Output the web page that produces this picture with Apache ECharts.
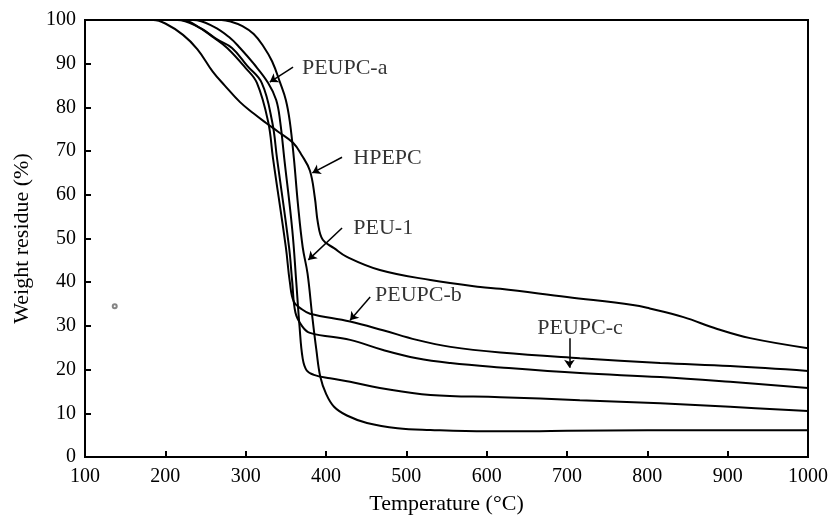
<!DOCTYPE html>
<html>
<head>
<meta charset="utf-8">
<script src="https://cdn.jsdelivr.net/npm/echarts@6/dist/echarts.min.js"></script>
<style>
  html, body { margin: 0; padding: 0; background: #fff; }
  #chart { width: 833px; height: 522px; }
</style>
</head>
<body>
<div id="chart"></div>
<script>
// TGA curves, [temperature °C, weight residue %]
const hpepc = [[100,100],[185,100],[200,99.2],[222,96.6],[240,93.3],[259,88.2],[274,85],[293,81.2],[310,78.6],[325,76.5],[340,74.5],[359,71.9],[370,69],[380,65.5],[386,59.5],[390,53.5],[396,49.7],[410,47.8],[426,45.8],[467,42.8],[530,40.5],[592,38.9],[617,38.5],[700,36.6],[782,34.8],[803,34],[845,32],[887,29.3],[928,27.2],[1000,24.9]]
const peu1 = [[100,100],[270,100],[282,99.6],[296,98.6],[310,96.8],[322,94],[333,90.5],[343,85.6],[350,81.7],[355,76.7],[360,68.4],[365,58],[371,48],[377,42],[383,32],[388,24.5],[393,18.3],[400,14.5],[410,11.5],[426,9.5],[451,7.8],[489,6.6],[530,6.2],[600,5.9],[654,5.9],[700,6],[800,6.1],[900,6.1],[1000,6.1]]
const peupcA = [[100,100],[235,100],[260,98.5],[280,96],[293,93.6],[310,90],[328,85.6],[338,81.7],[343,76.7],[348,68.4],[358,52],[363,40],[367,30],[371,22.5],[376,19.8],[385,18.8],[405,18],[430,17.2],[467,15.8],[530,14.2],[617,13.7],[716,13],[816,12.3],[903,11.5],[1000,10.5]]
const peupcB = [[100,100],[215,100],[240,98.5],[260,96],[277,93.6],[300,89],[314,85.6],[328,76.7],[334,68.4],[350,48],[355,40],[360,35.5],[370,33.8],[380,32.8],[430,31],[471,29],[513,26.8],[555,25.2],[617,23.9],[716,22.6],[816,21.5],[903,20.8],[1000,19.7]]
const peupcC = [[100,100],[220,100],[245,98],[265,95.5],[283,93.6],[302,89.5],[320,85.6],[333,76.7],[339,68.4],[354,48],[358,40],[362,33],[370,30],[380,28.4],[430,26.8],[471,24.5],[513,22.6],[555,21.5],[617,20.5],[716,19.2],[816,18.3],[903,17.2],[1000,15.8]]

// labels: [x, y, text] and arrows: [[from], [to]] in data units
const labelItems = [[370,89,'PEUPC-a'],[434,68.4,'HPEPC'],[434,52.4,'PEU-1'],[461,37.1,'PEUPC-b'],[663,29.5,'PEUPC-c']]
const arrows = [
  [[359,89.2],[330,85.8]],
  [[420,68.6],[383,65]],
  [[420,52.4],[378,45.1]],
  [[455,36.6],[430,31.3]],
  [[703,27.2],[703,20.4]]
]
const strayMark = [[137,34.5]]

const curves = [hpepc, peu1, peupcA, peupcB, peupcC]
const font = 'Liberation Serif'

const chart = echarts.init(document.getElementById('chart'))

const option = {
  backgroundColor: '#fff',
  animation: false,
  grid: { left: 85, right: 25, top: 20, bottom: 65, show: true, borderColor: '#000', borderWidth: 2 },
  xAxis: {
    type: 'value', min: 100, max: 1000, interval: 100,
    name: 'Temperature (°C)', nameLocation: 'middle', nameGap: 36,
    nameTextStyle: { fontFamily: font, fontSize: 22, color: '#000' },
    axisLine: { lineStyle: { color: '#000', width: 2 } },
    axisTick: { inside: true, length: 6, lineStyle: { color: '#000', width: 2 } },
    axisLabel: { fontFamily: font, fontSize: 20, color: '#000', margin: 10, formatter: v => String(v) },
    splitLine: { show: false }
  },
  yAxis: {
    type: 'value', min: 0, max: 100, interval: 10,
    name: 'Weight residue (%)', nameLocation: 'middle', nameGap: 52,
    nameTextStyle: { fontFamily: font, fontSize: 22, color: '#000' },
    axisLine: { lineStyle: { color: '#000', width: 2 } },
    axisTick: { inside: true, length: 6, lineStyle: { color: '#000', width: 2 } },
    axisLabel: { fontFamily: font, fontSize: 20, color: '#000', margin: 9 },
    splitLine: { show: false }
  },
  series: [
    ...curves.map(d => ({
      type: 'line', data: d, showSymbol: false,
      smooth: 0.4,
      lineStyle: { color: '#000', width: 2 }
    })),
    {
      type: 'lines', coordinateSystem: 'cartesian2d',
      symbol: ['none', 'arrow'], symbolSize: 8,
      lineStyle: { color: '#000', width: 1.5, opacity: 1 },
      data: arrows.map(a => ({ coords: a }))
    },
    {
      type: 'scatter', symbolSize: 0,
      data: labelItems.map(l => ({ value: [l[0], l[1]], name: l[2] })),
      label: {
        show: true, position: 'right', distance: 0, formatter: '{b}',
        fontFamily: font, fontSize: 22, color: '#000'
      }
    },
    {
      type: 'scatter', symbol: 'emptyCircle', symbolSize: 4,
      itemStyle: { color: '#666', borderWidth: 1 },
      data: strayMark
    }
  ]
}

chart.setOption(option)
</script>
</body>
</html>
